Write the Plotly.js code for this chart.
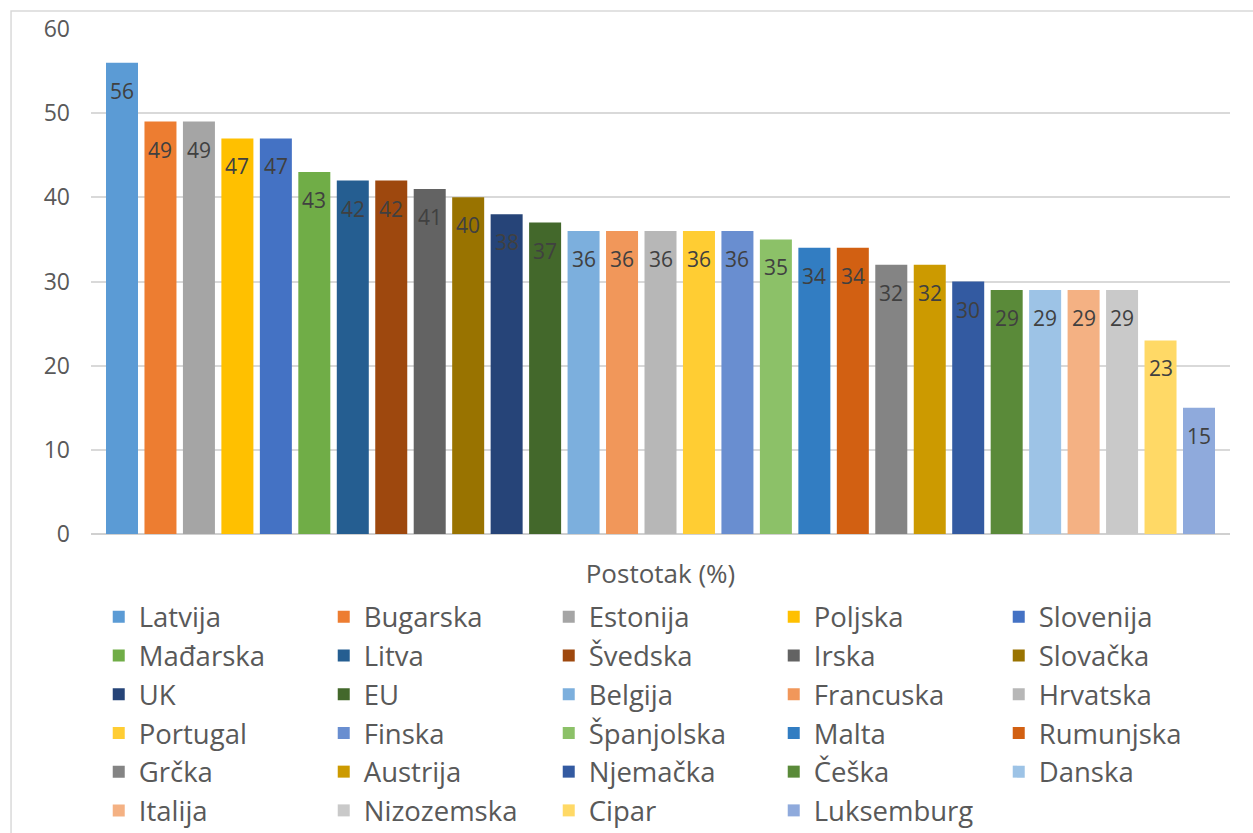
<!DOCTYPE html>
<html>
<head>
<meta charset="utf-8">
<script src="https://cdn.plot.ly/plotly-3.0.1.min.js"></script>
<style>
html,body{margin:0;padding:0;background:#fff;}
#chart{width:1253px;height:833px;}
</style>
</head>
<body>
<div id="chart"></div>
<script>
const countries = ["Latvija","Bugarska","Estonija","Poljska","Slovenija","Mađarska","Litva","Švedska","Irska","Slovačka","UK","EU","Belgija","Francuska","Hrvatska","Portugal","Finska","Španjolska","Malta","Rumunjska","Grčka","Austrija","Njemačka","Češka","Danska","Italija","Nizozemska","Cipar","Luksemburg"];
const values = [56,49,49,47,47,43,42,42,41,40,38,37,36,36,36,36,36,35,34,34,32,32,30,29,29,29,29,23,15];
const colors = ["#5B9BD5","#ED7D31","#A5A5A5","#FFC000","#4472C4","#70AD47",
                "#255E91","#9E480E","#636363","#997300","#264478","#43682B",
                "#7CAFDD","#F1975A","#B7B7B7","#FFCD33","#698ED0","#8CC168",
                "#327DC2","#D26012","#848484","#CC9A00","#335AA1","#5A8A39",
                "#9DC3E6","#F4B183","#C9C9C9","#FFD966","#8FAADC"];
const yTicks = [0,10,20,30,40,50,60];
const axisTitle = "Postotak (%)";

const FONT = "Open Sans, sans-serif";

const traces = countries.map((c, i) => ({
  type: "bar",
  name: c,
  x: [c],
  y: [values[i]],
  marker: {color: colors[i], line: {width: 0}},
  hoverinfo: "name+y"
}));

const annotations = countries.map((c, i) => ({
  x: c, y: values[i], xref: "x", yref: "y",
  text: String(values[i]), showarrow: false,
  yanchor: "middle", yshift: -28,
  font: {family: FONT, size: 21, color: "#404040"}
}));

const layout = {
  width: 1253, height: 833,
  paper_bgcolor: "#fff", plot_bgcolor: "#fff",
  margin: {l: 91, r: 23, t: 29, b: 299},
  barmode: "overlay",
  bargap: 0.168,
  showlegend: true,
  xaxis: {
    type: "category",
    range: [-0.806, 28.806],
    showticklabels: false, ticks: "",
    showgrid: false, zeroline: false, showline: false,
    title: {text: axisTitle, font: {family: FONT, size: 26, color: "#595959"}, standoff: 30}
  },
  yaxis: {
    range: [0, 60], tickvals: yTicks, ticktext: yTicks.map(String),
    showgrid: true, gridcolor: "#d9d9d9", gridwidth: 1.5,
    zeroline: true, zerolinecolor: "#d0d0d0", zerolinewidth: 2,
    showline: false, ticks: "",
    ticklabelstandoff: 20,
    tickfont: {family: FONT, size: 23, color: "#595959"}
  },
  legend: {
    orientation: "h",
    xref: "container", yref: "container",
    x: 0.0788, y: 0.289, xanchor: "left", yanchor: "top",
    entrywidth: 180, entrywidthmode: "pixels",
    font: {family: FONT, size: 27.5, color: "#595959"},
    traceorder: "normal",
    bgcolor: "rgba(0,0,0,0)"
  },
  annotations: annotations,
  shapes: [{
    type: "rect", xref: "paper", yref: "paper",
    x0: -0.0702, x1: 1.2, y0: -1, y1: 1.0356,
    line: {color: "#d9d9d9", width: 1.5}, fillcolor: "rgba(0,0,0,0)", layer: "below"
  }]
};

Plotly.newPlot("chart", traces, layout, {displayModeBar: false, responsive: false});
</script>
</body>
</html>
